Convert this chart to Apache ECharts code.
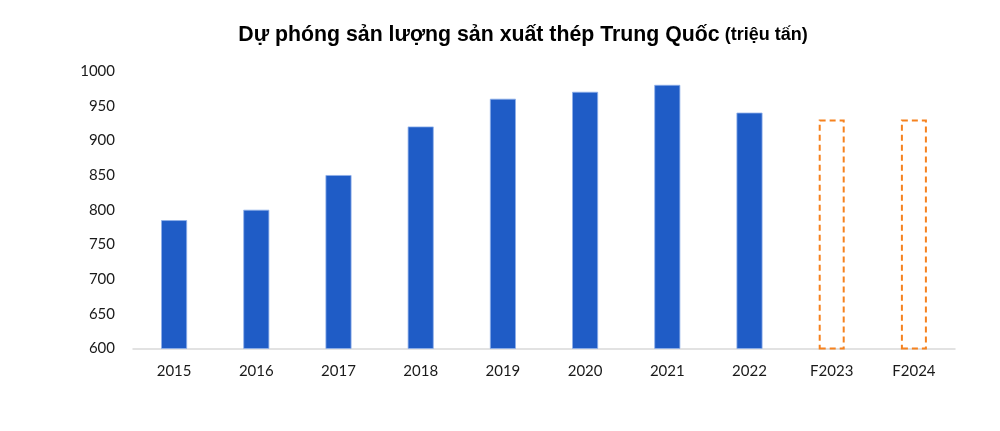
<!DOCTYPE html>
<html><head><meta charset="utf-8">
<script src="https://cdn.jsdelivr.net/npm/echarts@6/dist/echarts.min.js"></script>
<style>html,body{margin:0;padding:0;background:#fff}#c{width:1000px;height:431px}</style>
</head><body><div id="c"></div>
<script>
const categories = ['2015','2016','2017','2018','2019','2020','2021','2022','F2023','F2024'];
const values = [785, 800, 850, 920, 960, 970, 980, 940, 930, 930];
const forecast = [false,false,false,false,false,false,false,false,true,true];
const yTicks = [600, 650, 700, 750, 800, 850, 900, 950, 1000];

const chart = echarts.init(document.getElementById('c'));
const data = values.map((v, i) => forecast[i]
  ? { value: v, itemStyle: { color: 'rgba(0,0,0,0)', borderColor: '#F5821F', borderWidth: 2, borderType: [6, 4] } }
  : { value: v, itemStyle: { color: '#1F5CC6', borderColor: '#8FB0EA', borderWidth: 0.8 } });

chart.setOption({
  animation: false,
  title: {
    text: '{a|Dự phóng sản lượng sản xuất thép Trung Quốc} {b|(triệu tấn)}',
    left: 518, textAlign: 'center', top: 20,
    textStyle: {
      rich: {
        a: { fontFamily: 'Liberation Sans', fontWeight: 'bold', fontSize: 21.3, color: '#000' },
        b: { fontFamily: 'Liberation Sans', fontWeight: 'bold', fontSize: 18, color: '#000' }
      }
    }
  },
  grid: { left: 133, right: 45, top: 71, bottom: 82.5, containLabel: false },
  xAxis: {
    type: 'category', data: categories,
    axisLine: { lineStyle: { color: '#D9D9D9', width: 1.5 } },
    axisTick: { show: false },
    axisLabel: { color: '#1a1a1a', fontFamily: 'Lato', fontSize: 15, margin: 15 }
  },
  yAxis: {
    type: 'value', min: yTicks[0], max: yTicks[yTicks.length - 1], interval: 50,
    axisLine: { show: false }, axisTick: { show: false },
    splitLine: { show: false },
    axisLabel: { color: '#1a1a1a', fontFamily: 'Lato', fontSize: 15, margin: 18, formatter: v => String(v) }
  },
  series: [{
    type: 'bar', data: data, barWidth: 26
  }]
});
</script></body></html>
